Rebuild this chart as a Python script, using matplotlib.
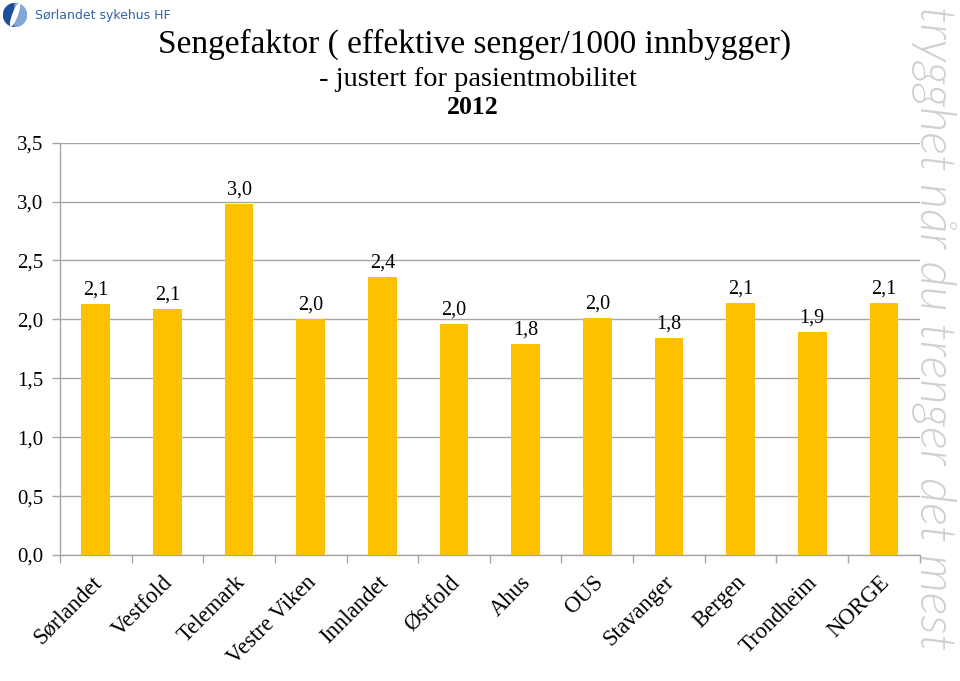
import matplotlib
matplotlib.use("Agg")
import matplotlib.pyplot as plt
from matplotlib.patches import Ellipse, Wedge
from matplotlib.transforms import ScaledTranslation
import numpy as np

categories = ["Sørlandet", "Vestfold", "Telemark", "Vestre Viken", "Innlandet", "Østfold",
              "Ahus", "OUS", "Stavanger", "Bergen", "Trondheim", "NORGE"]
values = [2.13, 2.09, 2.98, 2.00, 2.36, 1.96, 1.79, 2.01, 1.84, 2.14, 1.89, 2.14]
yticks = [0.0, 0.5, 1.0, 1.5, 2.0, 2.5, 3.0, 3.5]

title1 = "Sengefaktor ( effektive senger/1000 innbygger)"
title2 = " - justert for pasientmobilitet"
title3 = "2012"
logo_text = "Sørlandet sykehus HF"
watermark = "trygghet når du trenger det mest"

serif = ["Liberation Serif", "DejaVu Serif"]
bar_color = "#FFC000"
grid_color = "#A6A6A6"

fig = plt.figure(figsize=(9.6, 6.81), dpi=100)
ax = fig.add_axes([0.0625, 0.185, 0.8955, 0.6055])

x = np.arange(len(categories))
bars = ax.bar(x, values, width=0.4, color=bar_color, zorder=3)

for xi, v in zip(x, values):
    ax.text(xi, v + 0.04, f"{v:.1f}".replace(".", ","), ha="center", va="bottom",
            fontsize=14.5, family=serif, color="black")

ax.set_xlim(-0.5, len(categories) - 0.5)
ax.set_ylim(0, 3.5)
ax.set_yticks(yticks)
ax.set_yticklabels([f"{t:.1f}".replace(".", ",") for t in yticks], family=serif, fontsize=15)
ax.yaxis.grid(True, color=grid_color, linewidth=1, zorder=0)

ax.set_xticks(x)
ax.set_xticklabels(categories, rotation=45, ha="right", rotation_mode="anchor",
                   family=serif, fontsize=16.3)
ax.tick_params(axis="x", which="major", length=0, pad=12)
ax.set_xticks(np.arange(-0.5, len(categories), 1.0), minor=True)
ax.tick_params(axis="x", which="minor", length=6, color=grid_color, width=1)
ax.tick_params(axis="y", length=6, color=grid_color, width=1, pad=6)
shift = ScaledTranslation(-5 / 100, 0, fig.dpi_scale_trans)
for lab in ax.get_xticklabels():
    lab.set_transform(lab.get_transform() + shift)

for s in ["top", "right"]:
    ax.spines[s].set_visible(False)
for s in ["left", "bottom"]:
    ax.spines[s].set_color(grid_color)
    ax.spines[s].set_linewidth(1)

fig.text(0.494, 1 - 44 / 681, title1, ha="center", va="center", fontsize=24, family=serif)
fig.text(0.494, 1 - 79 / 681, title2, ha="center", va="center", fontsize=20.4, family=serif)
fig.text(0.492, 1 - 107 / 681, title3, ha="center", va="center", fontsize=18.5, family=serif,
         fontweight="bold")

# logo
lax = fig.add_axes([3 / 960, 1 - 27 / 681, 24 / 960, 24 / 681])
lax.set_xlim(0, 1)
lax.set_ylim(0, 1)
lax.set_aspect("equal")
lax.axis("off")
lax.add_patch(Wedge((0.5, 0.5), 0.48, 90, 270, color="#1F4E9A"))
lax.add_patch(Wedge((0.5, 0.5), 0.48, 270, 90, color="#7FA7D8"))
lax.add_patch(Ellipse((0.5, 0.5), 0.18, 0.96, angle=-20, color="white"))
fig.text(35 / 960, 1 - 15 / 681, logo_text, ha="left", va="center", fontsize=9,
         family="DejaVu Sans", color="#2F64A8")

# watermark
fig.text(0.972, 1 - 328 / 681, watermark, rotation=-90, ha="center", va="center",
         fontsize=35, color="#D0D0D0", family=["Lato", "DejaVu Sans"], fontweight=300,
         fontstyle="italic")

fig.savefig("out.png", dpi=100)
